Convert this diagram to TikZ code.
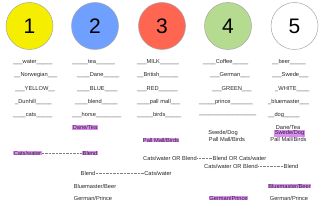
\documentclass[tikz,border=0pt]{standalone}
\usepackage{fontspec}
\setmainfont{Liberation Sans}
\definecolor{cyel}{RGB}{245,238,0}
\definecolor{cblu}{RGB}{111,160,255}
\definecolor{cred}{RGB}{255,102,82}
\definecolor{cgrn}{RGB}{181,219,144}
\definecolor{hil}{RGB}{222,140,245}
\definecolor{txt}{RGB}{40,40,40}
\begin{document}
\begin{tikzpicture}[x=1pt,y=-1pt,
  ball/.style={circle,draw=gray!70,line width=0.5pt,minimum size=47pt,inner sep=0pt,font=\fontsize{21}{21}\selectfont},
  lbl/.style={anchor=west,inner sep=0pt,text=txt,font=\fontsize{5.7}{6}\selectfont},
  itm/.style={inner sep=0.4pt,text=txt,font=\fontsize{5.7}{6}\selectfont},
  hl/.style={itm,fill=hil},
  link/.style={draw=gray,line width=0.4pt,dash pattern=on 0.9pt off 0.5pt}]
\useasboundingbox[fill=white] (0,0) rectangle (320,208);
% circles
\node[ball,fill=cyel] (c1) at (29.5,26) {1};
\node[ball,fill=cblu] (c2) at (95,26) {2};
\node[ball,fill=cred] (c3) at (162,26) {3};
\node[ball,fill=cgrn] (c4) at (228,26) {4};
\node[ball,fill=white] (c5) at (294.5,26) {5};
% row 1
\node[lbl] (r1a) at (13,62) {\_\_\_water\_\_\_\_\_};
\node[lbl] (r1b) at (72,62) {\_\_\_\_\_tea\_\_\_\_\_\_};
\node[lbl] (r1c) at (137,62) {\_\_\_MILK\_\_\_\_\_\_};
\node[lbl] (r1d) at (203,62) {\_\_\_\_Coffee\_\_\_\_\_};
\node[lbl] (r1e) at (272,62) {\_\_beer\_\_\_\_\_};
% row 2
\node[lbl] (r2a) at (14,75.5) {\_\_Norwegian\_\_\_};
\node[lbl] (r2b) at (77,75.5) {\_\_\_\_Dane\_\_\_\_\_};
\node[lbl] (r2c) at (137,75.5) {\_\_British\_\_\_\_\_\_};
\node[lbl] (r2d) at (210,75.5) {\_\_\_German\_\_\_};
\node[lbl] (r2e) at (272,75.5) {\_\_\_Swede\_\_\_};
% row 3
\node[lbl] (r3a) at (15,89) {\_\_\_YELLOW\_\_};
\node[lbl] (r3b) at (77,89) {\_\_\_\_BLUE\_\_\_\_};
\node[lbl] (r3c) at (137,89) {\_\_\_RED\_\_\_\_\_\_};
\node[lbl] (r3d) at (212,89) {\_\_\_GREEN\_\_\_};
\node[lbl] (r3e) at (275,89) {\_WHITE\_\_\_\_};
% row 4
\node[lbl] (r4a) at (15,102) {\_Dunhill\_\_\_\_\_};
\node[lbl] (r4b) at (75,102) {\_\_\_\_blend\_\_\_\_\_};
\node[lbl] (r4c) at (137,102) {\_\_\_\_pall mall\_\_\_};
\node[lbl] (r4d) at (199,102) {\_\_\_\_\_prince\_\_\_\_\_\_\_};
\node[lbl] (r4e) at (268,102) {\_bluemaster\_\_\_};
% row 5
\node[lbl] (r5a) at (13,115.5) {\_\_\_\_cats\_\_\_\_\_};
\node[lbl] (r5b) at (72,115.5) {\_\_\_horse\_\_\_\_\_\_\_\_};
\node[lbl] (r5c) at (137,115.5) {\_\_\_\_\_birds\_\_\_\_\_};
\node[lbl] (r5d) at (199,115.5) {\_\_\_\_\_\_\_\_\_\_\_\_\_\_\_\_\_\_};
\node[lbl] (r5e) at (268,115.5) {\_\_dog\_\_\_\_\_};
% lower area
\node[hl] (dt2) at (85,127.5) {Dane/Tea};
\node[hl] (pmb3) at (161,140) {Pall Mall/Birds};
\node[hl] (cw1) at (27.5,153) {Cats/water};
\node[hl] (bl2) at (90,153) {Blend};
\draw[link] (cw1) -- (bl2);
\node[itm] (cwob) at (170,158.5) {Cats/water OR Blend};
\node[itm] (bocw) at (239.5,158.5) {Blend OR Cats/water};
\draw[link] (cwob) -- (bocw);
\node[itm] (cwob2) at (231,166) {Cats/water OR Blend};
\node[itm] (bl5) at (291,166) {Blend};
\draw[link] (cwob2) -- (bl5);
\node[itm] (bl2b) at (88,173) {Blend};
\node[itm] (cw3) at (158,173) {Cats/water};
\draw[link] (bl2b) -- (cw3);
\node[itm] (bb2) at (95,186) {Bluemaster/Beer};
\node[itm] (gp2) at (93,198) {German/Prince};
\node[itm] (sd4) at (223,133.5) {Swede/Dog};
\node[itm] (pmb4) at (227,139.5) {Pall Mall/Birds};
\node[itm] (dt5) at (288,127.5) {Dane/Tea};
\node[hl] (sd5) at (289.5,133.5) {Swede/Dog};
\node[itm] (pmb5) at (288.5,139.5) {Pall Mall/Birds};
\node[hl] (bb5) at (289.5,186) {Bluemaster/Beer};
\node[hl] (gp4) at (228.5,198) {German/Prince};
\node[itm] (gp5) at (289,198) {German/Prince};
\end{tikzpicture}
\end{document}
